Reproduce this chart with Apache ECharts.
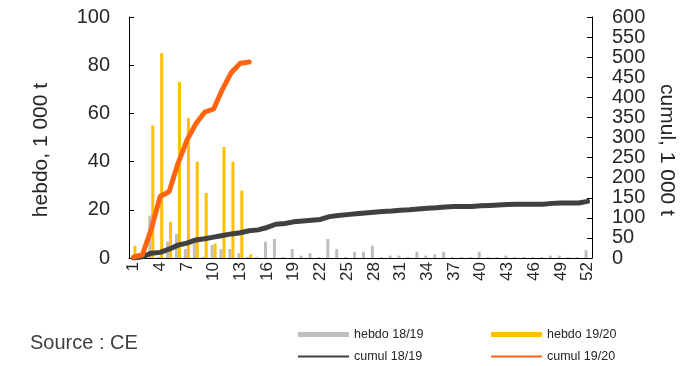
<!DOCTYPE html>
<html>
<head>
<meta charset="utf-8">
<script src="https://cdn.jsdelivr.net/npm/echarts@6/dist/echarts.min.js"></script>
<style>
  html, body { margin: 0; padding: 0; background: #fff; }
  #chart { width: 684px; height: 366px; }
</style>
</head>
<body>
<div id="chart"></div>
<script>
  // semaines
  const weeks = ['1','2','3','4','5','6','7','8','9','10','11','12','13','14','15','16','17','18','19','20',
    '21','22','23','24','25','26','27','28','29','30','31','32','33','34','35','36','37','38','39','40',
    '41','42','43','44','45','46','47','48','49','50','51','52'];

  // hebdo, 1 000 t
  const hebdo1819 = [0, 0, 17.6, 0.5, 6.8, 10, 3.7, 7, 0.5, 5.4, 3.7, 3.7, 2, 0.5, 0.5, 6.8, 7.9, 0.4, 3.7, 1,
    2, 0.4, 7.9, 3.7, 0.4, 2.6, 2.6, 5.1, 0.4, 1, 1, 0.4, 2.6, 1, 1.5, 2.6, 0.4, 0.4, 0.4, 2.6,
    0.4, 0.4, 1, 0.4, 0.4, 0.4, 0.4, 1, 1, 0.4, 0.4, 3.2];
  const hebdo1920 = [5, 0, 55, 85, 15, 73, 58, 40, 27, 6, 46, 40, 28, 1.5];

  // cumul, 1 000 t
  const cumul1819 = [0, 3, 12, 14, 22, 32, 37, 45, 48, 52, 56, 60, 63, 68, 70, 76, 84, 86, 90, 92,
    94, 96, 103, 106, 108, 110, 112, 114, 116, 117, 119, 120, 122, 124, 125, 127, 128, 128, 128, 130,
    131, 132, 133, 134, 134, 134, 134, 136, 137, 137, 137, 141];
  const cumul1920 = [2, 8, 72, 153, 165, 235, 293, 334, 363, 371, 420, 462, 485, 488];

  const font = 'Liberation Sans, Arial, sans-serif';
  const txt = '#262626';

  const chart = echarts.init(document.getElementById('chart'));
  chart.setOption({
    animation: false,
    backgroundColor: '#fff',
    textStyle: { fontFamily: font },
    grid: { left: 129, right: 92, top: 17, bottom: 108, outerBoundsMode: 'none' },
    legend: [
      {
        orient: 'vertical', left: 298, top: 328, padding: 0, itemWidth: 51, itemHeight: 14, itemGap: 9,
        itemStyle: { borderWidth: 0 },
        textStyle: { fontSize: 12.5, color: txt, fontFamily: font },
        data: [
          { name: 'hebdo 18/19', icon: 'path://M0,0H52V5H0Z' },
          { name: 'cumul 18/19', icon: 'path://M0,0H52V2H0Z' }
        ]
      },
      {
        orient: 'vertical', left: 491, top: 328, padding: 0, itemWidth: 51, itemHeight: 14, itemGap: 9,
        itemStyle: { borderWidth: 0 },
        textStyle: { fontSize: 12.5, color: txt, fontFamily: font },
        data: [
          { name: 'hebdo 19/20', icon: 'path://M0,0H52V5H0Z' },
          { name: 'cumul 19/20', icon: 'path://M0,0H52V2H0Z' }
        ]
      }
    ],
    xAxis: {
      type: 'category',
      data: weeks,
      axisLine: { lineStyle: { color: '#000', width: 1 } },
      axisTick: { show: false },
      axisLabel: { interval: 2, rotate: 90, margin: 4, fontSize: 17, color: txt, fontFamily: font },
      splitLine: { show: false }
    },
    yAxis: [
      {
        type: 'value', min: 0, max: 100, interval: 20,
        name: 'hebdo, 1 000 t', nameLocation: 'middle', nameRotate: 90, nameGap: 77,
        nameTextStyle: { fontSize: 21, color: txt, fontFamily: font, padding: [0, 25, 0, 0] },
        axisLine: { show: true, lineStyle: { color: '#000', width: 1 } },
        axisTick: { show: true, inside: true, length: 5, lineStyle: { color: '#000' } },
        axisLabel: { margin: 19, fontSize: 20, color: txt, fontFamily: font },
        splitLine: { show: false }
      },
      {
        type: 'value', min: 0, max: 600, interval: 50, position: 'right',
        name: 'cumul, 1 000 t', nameLocation: 'middle', nameRotate: -90, nameGap: 62,
        nameTextStyle: { fontSize: 21, color: txt, fontFamily: font, padding: [0, 0, 0, 25] },
        axisLine: { show: true, lineStyle: { color: '#000', width: 1 } },
        axisTick: { show: true, inside: true, length: 5, lineStyle: { color: '#000' } },
        axisLabel: { margin: 20, fontSize: 20, color: txt, fontFamily: font },
        splitLine: { show: false }
      }
    ],
    series: [
      {
        name: 'hebdo 18/19', type: 'bar', yAxisIndex: 0, data: hebdo1819,
        barWidth: 3, barGap: '0%', itemStyle: { color: '#bfbfbf' }
      },
      {
        name: 'hebdo 19/20', type: 'bar', yAxisIndex: 0, data: hebdo1920,
        barWidth: 3, barGap: '0%', itemStyle: { color: '#ffc000' }
      },
      {
        name: 'cumul 18/19', type: 'line', yAxisIndex: 1, data: cumul1819,
        showSymbol: false, symbol: 'none', itemStyle: { color: '#404040' },
        lineStyle: { color: '#404040', width: 5, cap: 'round', join: 'round' }
      },
      {
        name: 'cumul 19/20', type: 'line', yAxisIndex: 1, data: cumul1920,
        showSymbol: false, symbol: 'none', itemStyle: { color: '#ff6410' },
        lineStyle: { color: '#ff6410', width: 5, cap: 'round', join: 'round' }
      }
    ],
    graphic: [
      {
        type: 'text', left: 30, top: 333,
        style: { text: 'Source : CE', fontSize: 20, fill: '#404040', fontFamily: font }
      }
    ]
  });
</script>
</body>
</html>
